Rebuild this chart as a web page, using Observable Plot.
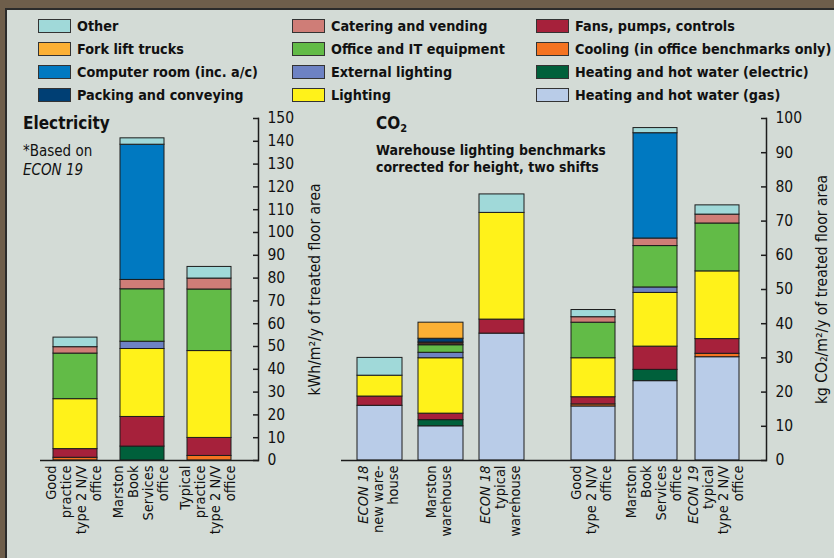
<!DOCTYPE html>
<html>
<head>
<meta charset="utf-8">
<script src="https://cdn.jsdelivr.net/npm/d3@7"></script>
<script src="https://cdn.jsdelivr.net/npm/@observablehq/plot@0.6"></script>
<style>
  body { margin: 0; background: #d3dbd6; }
  #page { position: relative; width: 834px; height: 558px; background: #d3dbd6; overflow: hidden;
          font-family: "DejaVu Sans Condensed", "DejaVu Sans", sans-serif; font-stretch: condensed; color: #111; }
  .abs { position: absolute; }
  .sw { position: absolute; width: 33px; height: 14px; border: 1px solid #333; box-sizing: border-box; }
  .lt { position: absolute; font-size: 14.3px; line-height: 18px; white-space: nowrap; font-weight: bold; }
  .panel { position: absolute; top: 105px; }
</style>
</head>
<body>
<div id="page">
  <div class="abs" style="left:0;top:0;width:834px;height:8px;background:#6e5e4b"></div>
  <div class="abs" style="left:0;top:0;width:5px;height:558px;background:#6e5e4b"></div>
  <div class="abs" style="left:5px;top:8px;width:829px;height:1.5px;background:#2b2b2b"></div>
  <div class="abs" style="left:5px;top:8px;width:1.5px;height:550px;background:#2b2b2b"></div>
  <div id="legend"></div>
  <div class="abs" style="left:23px;top:113px;font-size:17px;font-weight:bold;">Electricity</div>
  <div class="abs" style="left:23px;top:142px;font-size:15px;line-height:19px;">*Based on<br><i>ECON 19</i></div>
  <div class="abs" style="left:376px;top:113px;font-size:17px;font-weight:bold;">CO<sub style="font-size:11px;vertical-align:-3px">2</sub></div>
  <div class="abs" style="left:376px;top:142px;font-size:14px;line-height:17px;font-weight:bold;">Warehouse lighting benchmarks<br>corrected for height, two shifts</div>
  <div id="left" class="panel" style="left:0px"></div>
  <div id="wh" class="panel" style="left:334px"></div>
  <div id="off" class="panel" style="left:553px"></div>
</div>
<script>
// ---- categories (stack order, bottom to top) and colours ----
const stackOrder = [
  "Heating and hot water (gas)",
  "Heating and hot water (electric)",
  "Cooling (in office benchmarks only)",
  "Fans, pumps, controls",
  "Lighting",
  "External lighting",
  "Office and IT equipment",
  "Unidentified",
  "Packing and conveying",
  "Fork lift trucks",
  "Catering and vending",
  "Computer room (inc. a/c)",
  "Other"
];
const stackColors = [
  "#b9cce8", "#00603b", "#f47321", "#a6213b", "#fff21a", "#6d82c3",
  "#62bb47", "#4a2e22", "#003f74", "#fbb034", "#cf7d77", "#0079c1", "#a0d9d9"
];
// legend layout: columns of the legend
const legendCol1 = ["Other", "Fork lift trucks", "Computer room (inc. a/c)", "Packing and conveying"];
const legendCol2 = ["Catering and vending", "Office and IT equipment", "External lighting", "Lighting"];
const legendCol3 = ["Fans, pumps, controls", "Cooling (in office benchmarks only)", "Heating and hot water (electric)", "Heating and hot water (gas)"];

// ---- Electricity panel (kWh/m2/y), values in stackOrder ----
const elecBars = ["Good\npractice\ntype 2 N/V\noffice", "Marston\nBook\nServices\noffice", "Typical\npractice\ntype 2 N/V\noffice"];
const elecGood    = [0, 0,   1.2, 3.8, 21.9, 0,   20.0, 0, 0, 0, 2.8, 0,    4.2];
const elecMarston = [0, 6.1, 0,   13.0, 29.8, 3.2, 23.0, 0, 0, 0, 4.1, 59.3, 2.8];
const elecTypical = [0, 0,   2.0, 7.9, 38.1, 0,   27.0, 0, 0, 0, 4.8, 0,    5.1];
const elecTicks = [0,10,20,30,40,50,60,70,80,90,100,110,120,130,140,150];

// ---- CO2 panel (kg CO2/m2/y) ----
const whBars = ["ECON 18\nnew ware-\nhouse", "Marston\nwarehouse", "ECON 18\ntypical\nwarehouse"];
const co2Econ18New     = [16.0, 0,   0, 2.7, 6.1,  0,   0,   0,   0,   0,   0, 0, 5.2];
const co2MarstonWh     = [10.0, 1.8, 0, 1.9, 16.2, 1.6, 2.2, 0.8, 1.1, 4.7, 0, 0, 0];
const co2Econ18Typical = [37.1, 0,   0, 4.1, 31.2, 0,   0,   0,   0,   0,   0, 0, 5.4];
const offBars = ["Good\ntype 2 N/V\noffice", "Marston\nBook\nServices\noffice", "ECON 19\ntypical\ntype 2 N/V\noffice"];
const co2GoodOffice    = [15.8, 0,   0.6, 2.1, 11.4, 0,   10.4, 0, 0, 0, 1.6, 0,    2.1];
const co2MarstonOffice = [23.2, 3.3, 0,   6.8, 15.7, 1.6, 12.1, 0, 0, 0, 2.2, 30.8, 1.5];
const co2Econ19Office  = [30.2, 0,   1.0, 4.3, 19.8, 0,   14.0, 0, 0, 0, 2.6, 0,    2.7];
const co2Ticks = [0,10,20,30,40,50,60,70,80,90,100];

const colorByCat = new Map(stackOrder.map((c, i) => [c, stackColors[i]]));

// legend
const legend = document.getElementById("legend");
const legendCols = [[legendCol1, 38], [legendCol2, 292], [legendCol3, 536]];
const rowTops = [18, 41, 64, 87];
legendCols.forEach(([items, x]) => {
  items.forEach((name, r) => {
    const sw = document.createElement("div");
    sw.className = "sw";
    sw.style.left = x + "px"; sw.style.top = (rowTops[r] + 1) + "px";
    sw.style.background = colorByCat.get(name);
    legend.appendChild(sw);
    const t = document.createElement("div");
    t.className = "lt";
    t.style.left = (x + 39) + "px"; t.style.top = (rowTops[r] - 1) + "px";
    t.textContent = name;
    legend.appendChild(t);
  });
});

function rows(bars, seriesList) {
  const out = [];
  bars.forEach((b, i) => seriesList[i].forEach((v, j) => {
    if (v > 0) out.push({bar: b, cat: stackOrder[j], value: v});
  }));
  return out;
}

const FONT = "'DejaVu Sans Condensed', 'DejaVu Sans', sans-serif";
const H = 450, MT = 13, MB = 95;

function panel({bars, series, domain, ticks, width, ml, mr, xrange, pad, showAxis, axisLabel, labelDx}) {
  const data = rows(bars, series);
  const marks = [
    Plot.barY(data, {x: "bar", y: "value", fill: "cat", order: stackOrder, stroke: "#1c1c1c", strokeWidth: 1}),
    Plot.ruleY([0], {stroke: "#1c1c1c", strokeWidth: 1.5}),
    Plot.text(bars, {x: d => d, text: d => d, frameAnchor: "bottom", rotate: -90, textAnchor: "end",
      lineAnchor: "middle", dy: 5, dx: -2, lineHeight: 1.04, fontSize: 14.5, fontFamily: FONT, fill: "#111"})
  ];
  if (showAxis) {
    marks.push(
      Plot.frame({anchor: "right", stroke: "#1c1c1c", strokeWidth: 1.5}),
      Plot.axisY(ticks, {anchor: "right", tickSize: 6, dx: -6, tickFormat: () => "", stroke: "#1c1c1c", strokeWidth: 1.5, label: null}),
      Plot.axisY(ticks, {anchor: "right", tickSize: 0, tickPadding: 9, fontSize: 15.5, fontFamily: "'DejaVu Sans', sans-serif", fill: "#111", label: null}),
      Plot.text([axisLabel], {frameAnchor: "right", rotate: -90, dx: labelDx, textAnchor: "middle", lineAnchor: "middle",
        text: d => d, fontSize: 15.5, fontFamily: FONT, fill: "#111"})
    );
  }
  return Plot.plot({
    width, height: H, marginTop: MT, marginBottom: MB, marginLeft: ml, marginRight: mr,
    style: {background: "transparent", overflow: "visible"},
    x: {type: "band", domain: bars, range: xrange, paddingInner: pad, paddingOuter: pad, axis: null},
    y: {domain, axis: null},
    color: {domain: stackOrder, range: stackColors},
    marks
  });
}

const left = panel({bars: elecBars, series: [elecGood, elecMarston, elecTypical], domain: [0, 150], ticks: elecTicks,
  width: 334, ml: 40, mr: 76, xrange: [29, 254.5], pad: 0.34, showAxis: true,
  axisLabel: "kWh/m²/y of treated floor area", labelDx: 57});
const wh = panel({bars: whBars, series: [co2Econ18New, co2MarstonWh, co2Econ18Typical], domain: [0, 100], ticks: co2Ticks,
  width: 219, ml: 7, mr: 0, xrange: [6.5, 206], pad: 0.27, showAxis: false});
const off = panel({bars: offBars, series: [co2GoodOffice, co2MarstonOffice, co2Econ19Office], domain: [0, 100], ticks: co2Ticks,
  width: 281, ml: 0, mr: 68, xrange: [0, 204], pad: 0.29, showAxis: true,
  axisLabel: "kg CO₂/m²/y of treated floor area", labelDx: 56});

document.getElementById("left").appendChild(left);
document.getElementById("wh").appendChild(wh);
document.getElementById("off").appendChild(off);

document.querySelectorAll("#page svg tspan, #page svg text").forEach(el => {
  if (el.children.length === 0 && /^ECON/.test(el.textContent)) el.setAttribute("font-style", "italic");
});
</script>
</body>
</html>
